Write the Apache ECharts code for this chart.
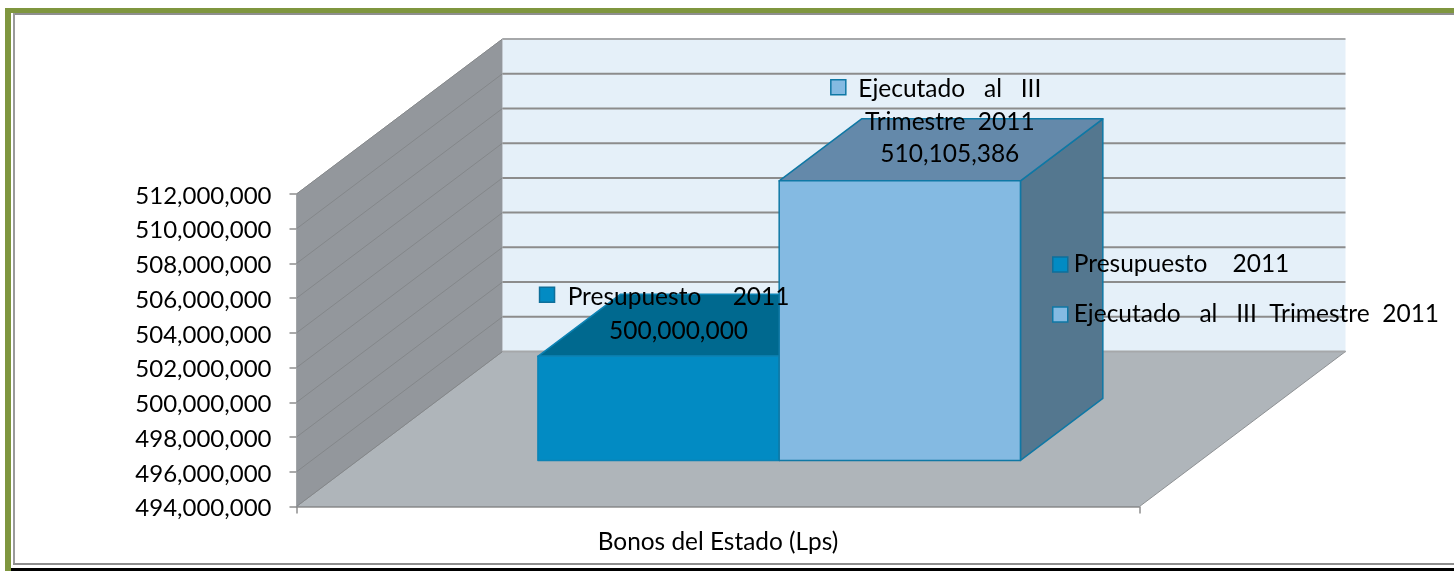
<!DOCTYPE html>
<html><head><meta charset="utf-8">
<style>html,body{margin:0;padding:0;background:#fff}#c{width:1454px;height:571px}</style>
<script src="https://cdn.jsdelivr.net/npm/echarts@6/dist/echarts.min.js"></script>
</head><body><div id="c"></div>
<script>
const categories = ['Bonos del Estado (Lps)'];
const yTicks = [494000000,496000000,498000000,500000000,502000000,504000000,506000000,508000000,510000000,512000000];
const seriesNames = ['Presupuesto    2011','Ejecutado   al   III  Trimestre  2011'];
const presupuesto = [500000000];
const ejecutado = [510105386];

const FONT = 'Lato, Carlito, sans-serif';
const DX = 206, DY = 155;          // wall depth in pixels
const D0 = 0.297, D1 = 0.697;      // bar depth range as share of wall depth
const BAR_W = 0.2862;              // bar width as share of the band
const fmt = v => Number(v).toLocaleString('en-US');
const shift = (p, d) => [p[0] + DX * d, p[1] - DY * d];

function renderWalls(params, api) {
  const yMin = yTicks[0], yMax = yTicks[yTicks.length - 1];
  const band = api.size([1, 0])[0];
  const c0 = api.coord([0, yMin]), c1 = api.coord([0, yMax]);
  const xL = c0[0] - band / 2, xR = c0[0] + band / 2;
  const bl = [xL, c0[1]], tl = [xL, c1[1]], br = [xR, c0[1]];
  const children = [
    {type:'polygon',shape:{points:[shift(bl,0),shift(bl,1),shift(tl,1),shift(tl,0)]},style:{fill:'#93979c',stroke:'#a2a5a8',lineWidth:1}},
    {type:'polygon',shape:{points:[shift(bl,1),shift(tl,1),shift([xR,c1[1]],1),shift(br,1)]},style:{fill:'#e5f0f9'}},
    {type:'polygon',shape:{points:[bl,br,shift(br,1),shift(bl,1)]},style:{fill:'#afb5ba',stroke:'#8e9194',lineWidth:1}}
  ];
  yTicks.forEach((v, i) => {
    const y = api.coord([0, v])[1];
    const a = [xL, y], b = shift(a, 1), e = shift([xR, y], 1);
    children.push({type:'polyline',shape:{points:[a,b]},style:{stroke:'#84878a',lineWidth:1,fill:null}});
    children.push({type:'polyline',shape:{points:[b,e]},style:{stroke: i===0||i===yTicks.length-1 ? '#a6a8aa':'#8c8c8c',lineWidth:2,fill:null}});
  });
  return {type:'group',children};
}

function barRenderer(slot, colors) {
  return function (params, api) {
    const cat = api.value(0), val = api.value(1);
    const band = api.size([1, 0])[0];
    const w = band * BAR_W;
    const cx = api.coord([cat, val])[0];
    const yTop = api.coord([cat, val])[1], yBase = api.coord([cat, yTicks[0]])[1];
    const x0 = cx + (slot === 0 ? -w : 0), x1 = x0 + w;
    const P = (x, y, d) => shift([x, y], d);
    const st = f => ({fill:f,stroke:colors.border,lineWidth:1.5,lineJoin:'round'});
    return {type:'group',children:[
      {type:'polygon',shape:{points:[P(x1,yBase,D0),P(x1,yBase,D1),P(x1,yTop,D1),P(x1,yTop,D0)]},style:st(colors.side)},
      {type:'polygon',shape:{points:[P(x0,yTop,D0),P(x1,yTop,D0),P(x1,yTop,D1),P(x0,yTop,D1)]},style:st(colors.top)},
      {type:'polygon',shape:{points:[P(x0,yBase,D0),P(x1,yBase,D0),P(x1,yTop,D0),P(x0,yTop,D0)]},style:st(colors.front)}
    ]};
  };
}

const textEl = (text, x, y) => ({type:'text',x,y,style:{text,fill:'#000',font:'24.5px '+FONT,align:'center',verticalAlign:'middle'}});
const markEl = (x, y, fill, stroke) => ({type:'rect',shape:{x,y,width:15,height:15},style:{fill,stroke,lineWidth:1.5}});

function renderLabels(params, api) {
  const cat = api.value(0), v1 = api.value(1), v2 = api.value(2);
  const band = api.size([1, 0])[0], w = band * BAR_W;
  const c1 = shift(api.coord([cat, v1]), D0), c2 = shift(api.coord([cat, v2]), D0);
  const ax = c1[0] - w / 2, ay = c1[1];
  const bx = c2[0] + w / 2, by = c2[1];
  return {type:'group',children:[
    markEl(ax - 119, ay - 69, '#028bc3', '#0f6f9a'),
    textEl('Presupuesto     2011', ax + 20, ay - 59),
    textEl(fmt(v1), ax + 20, ay - 25),
    markEl(bx - 69, by - 101, '#84bae2', '#0f78a5'),
    textEl('Ejecutado   al   III', bx + 50, by - 92),
    textEl('Trimestre  2011', bx + 50, by - 59),
    textEl(fmt(v2), bx + 50, by - 27)
  ]};
}

const chart = echarts.init(document.getElementById('c'), null, {renderer:'canvas'});
chart.setOption({
  animation:false,
  backgroundColor:'#fff',
  grid:{left:296.5,top:194,width:843,height:312.5,containLabel:false},
  xAxis:{type:'category',data:categories,
    axisLine:{lineStyle:{color:'#8e8e8e',width:1.5}},
    axisTick:{show:true,alignWithLabel:false,length:7,lineStyle:{color:'#8e8e8e',width:1.5}},
    axisLabel:{color:'#000',fontFamily:FONT,fontSize:24.4,margin:24,interval:0},splitLine:{show:false}},
  yAxis:{type:'value',min:yTicks[0],max:yTicks[yTicks.length-1],interval:yTicks[1]-yTicks[0],
    axisLine:{show:true,lineStyle:{color:'#8e8e8e',width:1.5}},
    axisTick:{show:true,length:7,lineStyle:{color:'#8e8e8e',width:1.5}},
    axisLabel:{color:'#000',fontFamily:FONT,fontSize:24,margin:25,formatter:v=>'{t|'+fmt(v)+'}',
      rich:{t:{fontFamily:FONT,fontSize:24,color:'#000',padding:[4,0,0,0]}}},splitLine:{show:false}},
  legend:{orient:'vertical',left:1052,top:252,itemWidth:15,itemHeight:15,itemGap:25,selectedMode:false,
    textStyle:{color:'#000',fontFamily:FONT,fontSize:24.5,padding:[0,0,0,1]},padding:0,
    data:[
      {name:seriesNames[0],icon:'rect',itemStyle:{color:'#028bc3',borderColor:'#0f6f9a',borderWidth:1.5}},
      {name:seriesNames[1],icon:'rect',itemStyle:{color:'#84bae2',borderColor:'#0f78a5',borderWidth:1.5}}
    ]},
  graphic:[
    {type:'rect',z:0,silent:true,shape:{x:5,y:8,width:1449,height:5},style:{fill:'#7f963f'}},
    {type:'rect',z:0,silent:true,shape:{x:5,y:8,width:6,height:563},style:{fill:'#7f963f'}},
    {type:'rect',z:0,silent:true,shape:{x:13,y:13,width:1441,height:2},style:{fill:'#8e8e8e'}},
    {type:'rect',z:0,silent:true,shape:{x:13,y:13,width:2,height:552},style:{fill:'#9a9a9a'}},
    {type:'rect',z:0,silent:true,shape:{x:13,y:563,width:1441,height:2},style:{fill:'#8e8e8e'}},
    {type:'rect',z:0,silent:true,shape:{x:11,y:568,width:1443,height:3},style:{fill:'#000'}}
  ],
  series:[
    {type:'custom',name:'walls',z:1,silent:true,renderItem:renderWalls,data:[[0,yTicks[0]]],encode:{x:0,y:1}},
    {type:'custom',name:seriesNames[0],z:2,silent:true,renderItem:barRenderer(0,{front:'#028bc3',top:'#00698f',side:'#01597a',border:'#0c83b5'}),
      data:presupuesto.map((v,i)=>[i,v]),encode:{x:0,y:1}},
    {type:'custom',name:seriesNames[1],z:2,silent:true,renderItem:barRenderer(1,{front:'#84bae2',top:'#6489aa',side:'#54778f',border:'#0f78a5'}),
      data:ejecutado.map((v,i)=>[i,v]),encode:{x:0,y:1}},
    {type:'custom',name:'labels',z:3,silent:true,renderItem:renderLabels,
      data:[[0,presupuesto[0],ejecutado[0]]],encode:{x:0,y:[1,2]}}
  ]
});
</script></body></html>
